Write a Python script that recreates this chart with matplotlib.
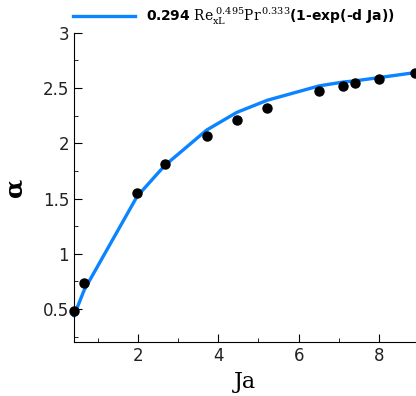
import matplotlib.pyplot as plt
from matplotlib.ticker import MultipleLocator, FormatStrFormatter

plt.rcParams["mathtext.fontset"] = "dejavuserif"

# measured points
ja_pts = [0.41, 0.66, 1.98, 2.67, 3.71, 4.46, 5.22, 6.51, 7.11, 7.39, 8.00, 8.89]
alpha_pts = [0.48, 0.735, 1.55, 1.81, 2.07, 2.215, 2.32, 2.47, 2.52, 2.545, 2.585, 2.635]

# correlation curve
ja_fit = [0.41, 0.66, 1.98, 2.67, 3.71, 4.46, 5.22, 6.51, 7.11, 7.39, 8.00, 8.89]
alpha_fit = [0.44, 0.67, 1.52, 1.80, 2.12, 2.28, 2.39, 2.52, 2.555, 2.565, 2.595, 2.64]

fig = plt.figure(figsize=(4.16, 3.96), dpi=100)
ax = fig.add_axes([0.178, 0.136, 0.822, 0.781])

ax.plot(ja_fit, alpha_fit, color="#0a84ff", lw=2.4, clip_on=False,
        label=r"0.294 $\mathrm{Re}_{\mathrm{xL}}^{\ 0.495}\mathrm{Pr}^{\,0.333}$(1-exp(-d Ja))")
ax.plot(ja_pts, alpha_pts, "o", color="black", ms=6.5, clip_on=False, zorder=5)

ax.set_xlim(0.41, 8.92)
ax.set_ylim(0.2, 3)
ax.xaxis.set_major_locator(MultipleLocator(2))
ax.xaxis.set_minor_locator(MultipleLocator(1))
ax.yaxis.set_major_locator(MultipleLocator(0.5))
ax.yaxis.set_minor_locator(MultipleLocator(0.25))
ax.yaxis.set_major_formatter(FormatStrFormatter("%g"))
ax.tick_params(which="both", direction="in", labelsize=12, labelcolor="#222222")
ax.tick_params(which="major", length=6)
ax.tick_params(which="minor", length=3)
ax.spines["top"].set_visible(False)
ax.spines["right"].set_visible(False)

ax.set_xlabel("Ja", fontsize=16, family="DejaVu Serif")
ax.set_ylabel("α", fontsize=18, family="DejaVu Serif", fontweight="bold", labelpad=12)

leg = ax.legend(loc="lower left", bbox_to_anchor=(-0.02, 1.0), frameon=False,
                fontsize=10, handlelength=4.5, borderaxespad=0)
for t in leg.get_texts():
    t.set_fontweight("semibold")

fig.savefig("out.png")
